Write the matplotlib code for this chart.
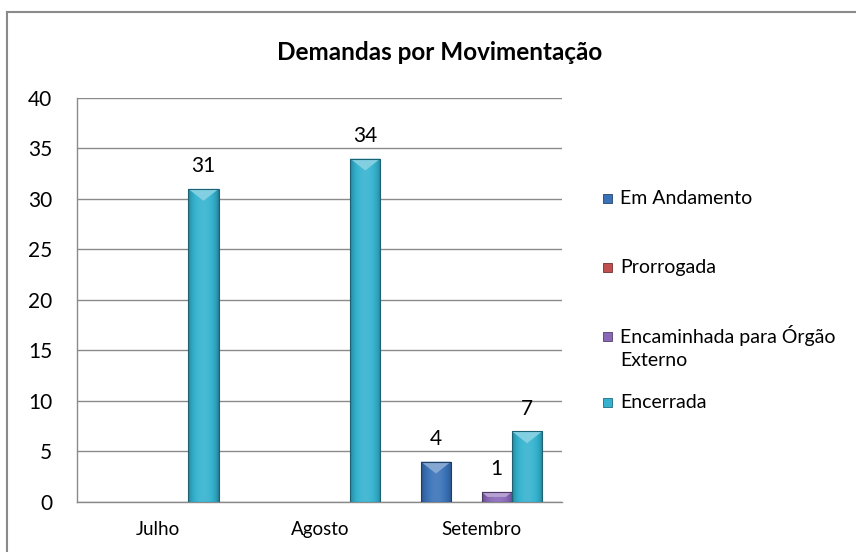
import numpy as np
import matplotlib.pyplot as plt
from matplotlib.patches import Polygon, Rectangle
from matplotlib.lines import Line2D
from matplotlib.colors import to_rgb

plt.rcParams['font.family'] = ['Lato', 'DejaVu Sans']

# dados do grafico
meses = ['Julho', 'Agosto', 'Setembro']
series = ['Em Andamento', 'Prorrogada', 'Encaminhada para Órgão\nExterno', 'Encerrada']
em_andamento = [0, 0, 4]
prorrogada = [0, 0, 0]
encaminhada = [0, 0, 1]
encerrada = [31, 34, 7]
valores = [em_andamento, prorrogada, encaminhada, encerrada]
cores = ['#3a72b8', '#c0504d', '#8a68b8', '#34b2cf']

fig = plt.figure(figsize=(8.56, 5.52), dpi=100)
ax = fig.add_axes([0.090, 0.0906, 0.567, 0.732])

x = np.arange(len(meses))
largura = 0.1877
px_por_unidade = 0.732 * 552 / 40.0


def shade(c, f):
    c = np.array(to_rgb(c))
    if f >= 1:
        return c + (1 - c) * (f - 1)
    return c * f


def bevel(bar, cor):
    # gradiente horizontal + triangulo claro no topo
    x0, y0 = bar.get_x(), bar.get_y()
    w, h = bar.get_width(), bar.get_height()
    if h <= 0:
        return
    t = np.linspace(0, 1, 40)
    perfil = 0.70 + 0.40 * np.sin(np.pi * t) ** 0.6
    img = np.array([[np.clip(shade(cor, f), 0, 1) for f in perfil]])
    im = ax.imshow(img, extent=[x0, x0 + w, y0, y0 + h], aspect='auto',
                   zorder=3, interpolation='bicubic')
    im.set_clip_path(bar)
    prof = min(12 / px_por_unidade, h * 0.5)
    topo = y0 + h
    if h * 0.5 < 12 / px_por_unidade:
        pts = [(x0, topo), (x0 + w, topo), (x0 + w * 0.8, topo - prof),
               (x0 + w * 0.2, topo - prof)]
    else:
        pts = [(x0, topo), (x0 + w, topo), (x0 + w / 2, topo - prof)]
    ax.add_patch(Polygon(pts, closed=True,
                         facecolor=np.clip(shade(cor, 1.38), 0, 1),
                         edgecolor='none', zorder=4))
    ax.add_patch(Rectangle((x0, y0), w, h, facecolor='none',
                           edgecolor=shade(cor, 0.55), linewidth=0.8, zorder=5))


for i, (nome, vals, cor) in enumerate(zip(series, valores, cores)):
    pos = x + (i - 1.5) * largura
    barras = ax.bar(pos, vals, largura, color=cor, zorder=2)
    for b, v in zip(barras, vals):
        b.set_facecolor('none')
        b.set_edgecolor('none')
        bevel(b, cor)
        if v > 0:
            ax.annotate(str(v), (b.get_x() + b.get_width() / 2, v),
                        xytext=(0, 9), textcoords='offset points',
                        ha='center', va='bottom', fontsize=15)

ax.set_xlim(-0.5, 2.5)
ax.set_ylim(0, 40)
ax.set_yticks(range(0, 41, 5))
ax.set_xticks(x)
ax.set_xticklabels(meses, fontsize=13.5)
ax.tick_params(axis='y', length=0, pad=18, labelsize=15)
ax.tick_params(axis='x', length=0, pad=14)
ax.grid(axis='y', color='#8a8a8a', linewidth=1, zorder=0)
ax.set_axisbelow(True)
for s in ['top', 'right']:
    ax.spines[s].set_visible(False)
for s in ['left', 'bottom']:
    ax.spines[s].set_color('#8a8a8a')
    ax.spines[s].set_linewidth(1)

fig.text(440 / 856, 1 - 53 / 552, 'Demandas por Movimentação',
         ha='center', va='center', fontsize=17.5, fontweight='bold')

# legenda manual
leg_y = [199, 267, 336, 402]
for nome, cor, yy in zip(series, cores, leg_y):
    fy = 1 - yy / 552
    fig.add_artist(Rectangle((603 / 856, fy - 4.5 / 552), 9 / 856, 9 / 552,
                             transform=fig.transFigure, facecolor=cor,
                             edgecolor=shade(cor, 0.6), linewidth=0.6))
    if '\n' in nome:
        fig.text(620 / 856, 1 - (yy - 11) / 552, nome, ha='left', va='top',
                 fontsize=14, linespacing=1.4)
    else:
        fig.text(620 / 856, fy, nome, ha='left', va='center', fontsize=14)

# borda do grafico
fig.add_artist(Line2D([7 / 856, 7 / 856], [0, 1 - 12 / 552], color='#8a8a8a', lw=1.5))
fig.add_artist(Line2D([7 / 856, 1], [1 - 12 / 552, 1 - 12 / 552], color='#8a8a8a', lw=1.5))

fig.savefig('out.png', dpi=100)
